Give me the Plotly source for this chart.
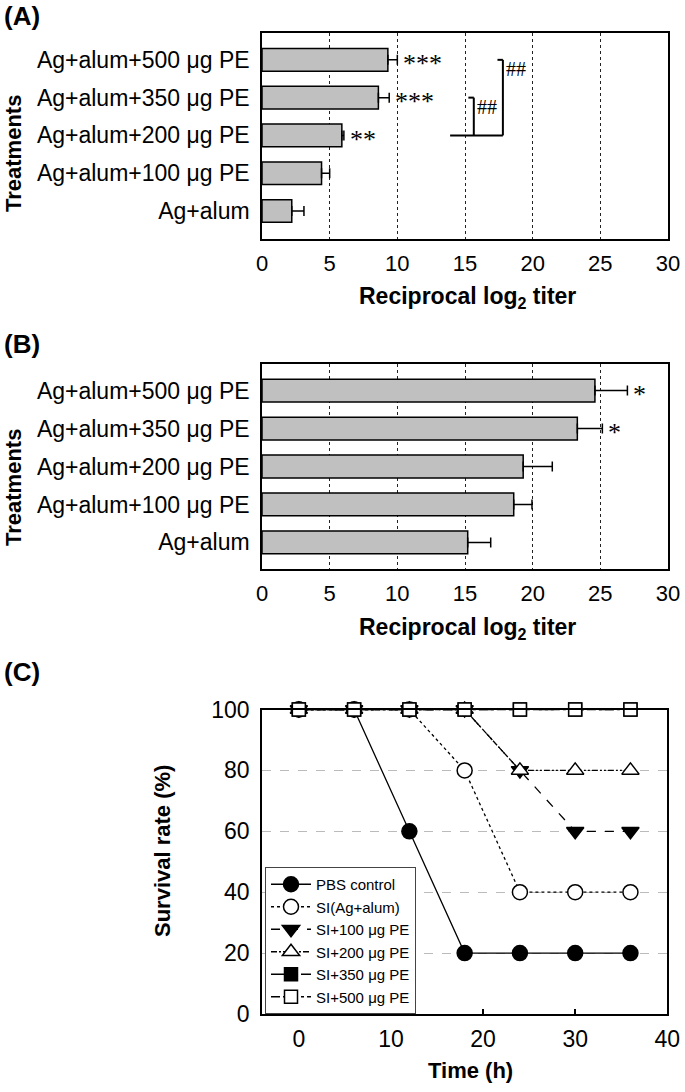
import plotly.graph_objects as go

# ---------------- data ----------------
categories = ["Ag+alum", "Ag+alum+100 μg PE", "Ag+alum+200 μg PE",
              "Ag+alum+350 μg PE", "Ag+alum+500 μg PE"]
titer_A = [2.2, 4.4, 5.9, 8.6, 9.3]
err_A = [0.9, 0.6, 0.15, 0.8, 0.7]
sig_A = ["", "", "**", "***", "***"]

titer_B = [15.2, 18.6, 19.3, 23.3, 24.6]
err_B = [1.7, 1.35, 2.15, 1.85, 2.4]
sig_B = ["", "", "", "*", "*"]

x_ticks = [0, 5, 10, 15, 20, 25, 30]

time_h = [0, 6, 12, 18, 24, 30, 36]
pbs_control = [100, 100, 60, 20, 20, 20, 20]
si_alum = [100, 100, 100, 80, 40, 40, 40]
si_100 = [100, 100, 100, 100, 80, 60, 60]
si_200 = [100, 100, 100, 100, 80, 80, 80]
si_350 = [100, 100, 100, 100, 100, 100, 100]
si_500 = [100, 100, 100, 100, 100, 100, 100]
series_names = ["PBS control", "SI(Ag+alum)", "SI+100 μg PE",
                "SI+200 μg PE", "SI+350 μg PE", "SI+500 μg PE"]
surv_ticks = [0, 20, 40, 60, 80, 100]
time_ticks = [0, 10, 20, 30, 40]

# bracket comparisons in panel A: (top category, x of arm, label)
bracket_base = "Ag+alum+200 μg PE"
bracket_x_start = 13.9
bracket_arms = [("Ag+alum+350 μg PE", 15.65, "##"),
                ("Ag+alum+500 μg PE", 17.8, "##")]

# ---------------- layout helpers ----------------
W, H = 685, 1092
def px(x):
    return x / W
def py(y):
    return 1 - y / H

FONT = "Liberation Sans, Arial, sans-serif"
SERIF = "Liberation Serif, Times New Roman, serif"
BAR_FILL = "#c0c0c0"

fig = go.Figure()

# ---------------- panel A & B bars ----------------
for vals, errs, xa, ya in [(titer_A, err_A, "x", "y"), (titer_B, err_B, "x2", "y2")]:
    fig.add_trace(go.Bar(
        y=categories, x=vals, orientation="h", width=0.6,
        marker=dict(color=BAR_FILL, line=dict(color="black", width=1.5)),
        error_x=dict(type="data", array=errs, arrayminus=[0] * len(errs),
                     symmetric=False, color="black", thickness=1.5, width=5),
        xaxis=xa, yaxis=ya, showlegend=False, hoverinfo="skip"))

annotations = []
for vals, errs, sigs, xr, yr in [(titer_A, err_A, sig_A, "x", "y"),
                                  (titer_B, err_B, sig_B, "x2", "y2")]:
    for i, s in enumerate(sigs):
        if s:
            annotations.append(dict(
                x=vals[i] + errs[i], y=i, xref=xr, yref=yr, text=s,
                showarrow=False, xanchor="left", yanchor="middle",
                xshift=4, yshift=-4,
                font=dict(family=SERIF, size=26, color="black")))

shapes = []
base_i = categories.index(bracket_base)
max_x = max(a[1] for a in bracket_arms)
shapes.append(dict(type="line", xref="x", yref="y", x0=bracket_x_start, x1=max_x,
                   y0=base_i, y1=base_i, line=dict(color="black", width=2)))
for cat, ax_x, lab in bracket_arms:
    ti = categories.index(cat)
    shapes.append(dict(type="line", xref="x", yref="y", x0=ax_x, x1=ax_x,
                       y0=base_i, y1=ti, line=dict(color="black", width=2)))
    shapes.append(dict(type="line", xref="x", yref="y", x0=ax_x - 0.4, x1=ax_x,
                       y0=ti, y1=ti, line=dict(color="black", width=2)))
    annotations.append(dict(x=ax_x, y=ti, xref="x", yref="y", text=lab,
                            showarrow=False, xanchor="left", yanchor="top",
                            xshift=1, yshift=4,
                            font=dict(family=SERIF, size=20, color="#000000")))

# ---------------- panel C lines ----------------
series_vals = [pbs_control, si_alum, si_100, si_200, si_350, si_500]
dashes = ["solid", "dot", "dash", "6px,2px,2px,2px,2px,2px", "longdash", "dashdot"]
symbols = ["circle", "circle", "triangle-down", "triangle-up", "square", "square"]
fills = ["black", "white", "black", "white", "black", "white"]
sizes = [15, 15, 15, 15, 13, 13]
for name, vals, d, sym, f, sz in zip(series_names, series_vals, dashes, symbols, fills, sizes):
    fig.add_trace(go.Scatter(
        x=time_h, y=vals, name=name, mode="lines+markers",
        line=dict(color="black", width=1.3, dash=d),
        marker=dict(symbol=sym, size=sz, color=f, line=dict(color="black", width=1.5)),
        xaxis="x3", yaxis="y3", cliponaxis=False, hoverinfo="skip"))

# ---------------- text labels ----------------
def txt(x, y, t, size, bold=False, angle=0, family=FONT, xanchor="center"):
    annotations.append(dict(x=px(x), y=py(y), xref="paper", yref="paper", text=t,
                            showarrow=False, textangle=angle, xanchor=xanchor,
                            yanchor="middle",
                            font=dict(family=family, size=size, color="black",
                                      weight="bold" if bold else "normal")))

txt(2, 16, "(A)", 26, True, xanchor="left")
txt(2, 344, "(B)", 26, True, xanchor="left")
txt(2, 672, "(C)", 26, True, xanchor="left")
txt(14, 154, "Treatments", 22, True, -90)
txt(14, 488, "Treatments", 22, True, -90)
txt(467, 298, "Reciprocal log<sub>2</sub> titer", 23, True)
txt(467, 628, "Reciprocal log<sub>2</sub> titer", 23, True)
txt(470, 1070, "Time (h)", 22, True)
txt(162, 851, "Survival rate (%)", 22, True, -90)

bar_x_dom = [px(262), px(668)]
common_bar_x = dict(domain=bar_x_dom, range=[0, 30], tickvals=x_ticks, ticks="",
                    showline=True, mirror=True, linecolor="black", linewidth=1.5,
                    showgrid=True, gridcolor="#222222", gridwidth=1, griddash="dot",
                    zeroline=False, tickfont=dict(family=FONT, size=22, color="black"),
                    ticklabelstandoff=4, ticklabeloverflow="allow")
common_bar_y = dict(type="category", categoryorder="array", categoryarray=categories,
                    ticks="", showline=True, mirror=True, linecolor="black",
                    linewidth=1.5, showgrid=False, zeroline=False,
                    tickfont=dict(family=FONT, size=23, color="black"),
                    ticklabelstandoff=6)

fig.update_layout(
    width=W, height=H,
    margin=dict(l=0, r=0, t=0, b=0, autoexpand=False),
    paper_bgcolor="white", plot_bgcolor="white",
    font=dict(family=FONT, color="black"),
    xaxis=dict(common_bar_x, anchor="y"),
    yaxis=dict(common_bar_y, anchor="x", domain=[py(239), py(33)], range=[-0.74, 4.71]),
    xaxis2=dict(common_bar_x, anchor="y2"),
    yaxis2=dict(common_bar_y, anchor="x2", domain=[py(569), py(364)], range=[-0.7, 4.7]),
    xaxis3=dict(anchor="y3", domain=[px(262), px(667.3)], range=[-4, 40],
                tickvals=time_ticks, ticks="inside", ticklen=5, tickwidth=1.5,
                tickcolor="black", showline=True, mirror=True, linecolor="black",
                linewidth=1.5, showgrid=False, zeroline=False,
                tickfont=dict(family=FONT, size=23, color="black"),
                ticklabelstandoff=4, ticklabeloverflow="allow"),
    yaxis3=dict(anchor="x3", domain=[py(1014), py(709.5)], range=[0, 100],
                tickvals=surv_ticks, ticks="", showline=True, mirror=True,
                linecolor="black", linewidth=1.5, showgrid=True,
                gridcolor="#bbbbbb", gridwidth=1, griddash="dash", zeroline=False,
                tickfont=dict(family=FONT, size=23, color="black"),
                ticklabelstandoff=6),
    legend=dict(x=px(265), y=py(867), xanchor="left", yanchor="top",
                bgcolor="white", bordercolor="#444444", borderwidth=1,
                font=dict(family=FONT, size=15, color="black"),
                tracegroupgap=0, itemwidth=40),
    showlegend=True,
    annotations=annotations,
    shapes=shapes,
)

# remove the default 8px page margin so the figure fills the window exactly
fig.write_html("out.html",
               config={"displayModeBar": False},
               post_script="document.body.style.margin='0';document.body.style.overflow='hidden';")
